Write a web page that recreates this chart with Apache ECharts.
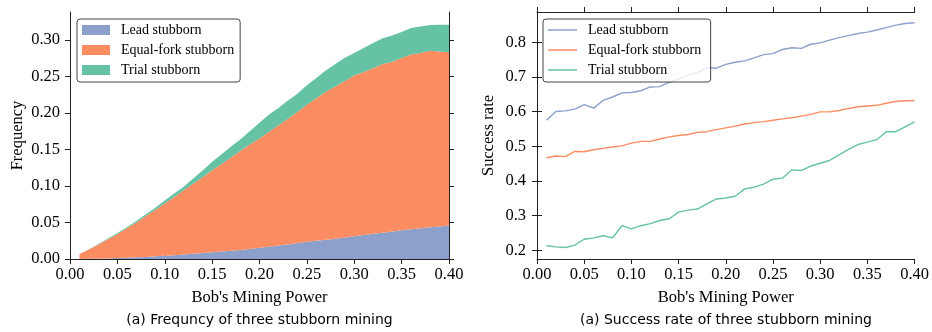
<!DOCTYPE html>
<html>
<head>
<meta charset="utf-8">
<script src="https://cdn.jsdelivr.net/npm/echarts@6/dist/echarts.min.js"></script>
<style>
  html, body { margin: 0; padding: 0; background: #fff; }
  #chart { width: 932px; height: 332px; }
</style>
</head>
<body>
<div id="chart"></div>
<script>
// Bob's mining power (x) shared by both panels
const miningPower = [0.01, 0.02, 0.03, 0.04, 0.05, 0.06, 0.07, 0.08, 0.09, 0.10,
  0.11, 0.12, 0.13, 0.14, 0.15, 0.16, 0.17, 0.18, 0.19, 0.20,
  0.21, 0.22, 0.23, 0.24, 0.25, 0.26, 0.27, 0.28, 0.29, 0.30,
  0.31, 0.32, 0.33, 0.34, 0.35, 0.36, 0.37, 0.38, 0.39, 0.40];

// left panel: frequency (stacked)
const freqLead = [0.0001, 0.0003, 0.0005, 0.0008, 0.0012, 0.0017, 0.0023, 0.0029, 0.0036, 0.0044,
  0.0053, 0.0062, 0.0071, 0.0081, 0.0091, 0.0102, 0.0113, 0.0124, 0.0138, 0.0153,
  0.0168, 0.0184, 0.0200, 0.0218, 0.0236, 0.0250, 0.0264, 0.0278, 0.0293, 0.0310,
  0.0327, 0.0344, 0.0360, 0.0376, 0.0392, 0.0406, 0.0420, 0.0433, 0.0446, 0.0458];
const freqEqualFork = [0.0067, 0.0127, 0.0195, 0.0262, 0.0328, 0.0403, 0.0477, 0.0561, 0.0634, 0.0716,
  0.0797, 0.0878, 0.0959, 0.1039, 0.1125, 0.1198, 0.1277, 0.1356, 0.1432, 0.1497,
  0.1572, 0.1646, 0.1720, 0.1792, 0.1874, 0.1950, 0.2026, 0.2082, 0.2142, 0.2200,
  0.2233, 0.2266, 0.2310, 0.2324, 0.2358, 0.2394, 0.2400, 0.2417, 0.2394, 0.2372];
const freqTrial = [0.0002, 0.0003, 0.0005, 0.0010, 0.0015, 0.0015, 0.0020, 0.0022, 0.0030, 0.0040,
  0.0045, 0.0050, 0.0070, 0.0090, 0.0114, 0.0135, 0.0150, 0.0160, 0.0180, 0.0215,
  0.0236, 0.0237, 0.0250, 0.0250, 0.0267, 0.0277, 0.0290, 0.0310, 0.0320, 0.0310,
  0.0327, 0.0345, 0.0350, 0.0360, 0.0355, 0.0360, 0.0360, 0.0352, 0.0366, 0.0376];

// right panel: success rate
const rateLead = [0.575, 0.600, 0.602, 0.607, 0.620, 0.610, 0.632, 0.642, 0.654, 0.655,
  0.660, 0.671, 0.672, 0.684, 0.694, 0.704, 0.713, 0.727, 0.725, 0.736,
  0.742, 0.746, 0.755, 0.764, 0.767, 0.779, 0.784, 0.782, 0.794, 0.798,
  0.806, 0.813, 0.819, 0.825, 0.829, 0.835, 0.842, 0.849, 0.854, 0.856];
const rateEqualFork = [0.467, 0.472, 0.470, 0.485, 0.484, 0.490, 0.494, 0.498, 0.501, 0.509,
  0.514, 0.514, 0.521, 0.527, 0.531, 0.534, 0.540, 0.542, 0.548, 0.553,
  0.558, 0.564, 0.568, 0.571, 0.575, 0.579, 0.582, 0.587, 0.592, 0.599,
  0.599, 0.603, 0.609, 0.614, 0.616, 0.618, 0.624, 0.629, 0.631, 0.632];
const rateTrial = [0.213, 0.210, 0.208, 0.215, 0.232, 0.236, 0.242, 0.236, 0.271, 0.262,
  0.271, 0.277, 0.286, 0.291, 0.310, 0.316, 0.319, 0.334, 0.348, 0.351,
  0.356, 0.377, 0.382, 0.391, 0.405, 0.408, 0.432, 0.430, 0.443, 0.451,
  0.459, 0.475, 0.491, 0.505, 0.512, 0.519, 0.542, 0.542, 0.556, 0.570];

// tick labels
const xTicks = [0, 0.05, 0.10, 0.15, 0.20, 0.25, 0.30, 0.35, 0.40];
const freqTicks = [0, 0.05, 0.10, 0.15, 0.20, 0.25, 0.30];
const rateTicks = [0.2, 0.3, 0.4, 0.5, 0.6, 0.7, 0.8];

const seriesNames = ['Lead stubborn', 'Equal-fork stubborn', 'Trial stubborn'];
const colors = ['#8da0cb', '#fc8d62', '#66c2a5'];

const serif = 'Liberation Serif';
const ink = '#000';
const spine = '#222';

// left panel uses a category axis (0.00 .. 0.40 in steps of 0.01) so the areas stack on y
const freqCategories = [0, ...miningPower].map(v => v.toFixed(2));
const everyFifth = i => i % 5 === 0;
const padFirst = vals => [null, ...vals];

const pairs = vals => vals.map((v, i) => [miningPower[i], v]);

const lineStyle = { color: spine, width: 1 };
const labelFont = { color: ink, fontFamily: serif, fontSize: 16.5 };

function valueAxis(ticks, digits, showLabel, margin) {
  return {
    type: 'value',
    axisLine: { show: true, lineStyle },
    axisTick: { show: true, inside: false, length: 5, customValues: ticks, lineStyle },
    axisLabel: Object.assign({
      show: showLabel, customValues: ticks, margin,
      formatter: v => Number(v).toFixed(digits)
    }, labelFont),
    splitLine: { show: false }
  };
}

function categoryAxis(showLabel) {
  return {
    type: 'category',
    data: freqCategories,
    boundaryGap: false,
    axisLine: { show: true, lineStyle },
    axisTick: { show: true, inside: false, length: 5, interval: everyFifth, lineStyle },
    axisLabel: Object.assign({ show: showLabel, interval: everyFifth, margin: 7 }, labelFont),
    splitLine: { show: false }
  };
}

const xName = {
  name: "Bob's Mining Power", nameLocation: 'middle', nameGap: 30,
  nameTextStyle: labelFont
};

const xAxes = [
  Object.assign(categoryAxis(true), { gridIndex: 0, position: 'bottom' }, xName),
  Object.assign(categoryAxis(false), { gridIndex: 0, position: 'top' }),
  Object.assign(valueAxis(xTicks, 2, true, 7), { gridIndex: 1, position: 'bottom', min: 0, max: 0.4 }, xName),
  Object.assign(valueAxis(xTicks, 2, false, 7), { gridIndex: 1, position: 'top', min: 0, max: 0.4 })
];

function yAxes(gridIndex, ticks, digits, min, max, name, gap, margin) {
  return [
    Object.assign(valueAxis(ticks, digits, true, margin), {
      gridIndex, position: 'left', min, max,
      name, nameLocation: 'middle', nameGap: gap, nameTextStyle: labelFont
    }),
    Object.assign(valueAxis(ticks, digits, false, margin), {
      gridIndex, position: 'right', min, max
    })
  ];
}

const legendBase = {
  orient: 'vertical',
  top: 19,
  padding: [1, 6, 2, 5],
  itemGap: 0,
  backgroundColor: 'rgba(255,255,255,0.8)',
  borderColor: '#444',
  borderWidth: 1,
  borderRadius: 3,
  selectedMode: false,
  icon: 'rect',
  textStyle: { color: ink, fontFamily: serif, fontSize: 14, lineHeight: 20, padding: [0, 0, 0, 6] }
};

const captionFont = '14px "DejaVu Sans"';

const chart = echarts.init(document.getElementById('chart'), null, { renderer: 'canvas' });

chart.setOption({
  backgroundColor: '#fff',
  animation: false,
  grid: [
    { left: 70, top: 12, width: 379, height: 247 },
    { left: 537, top: 12, width: 378, height: 247 }
  ],
  xAxis: xAxes,
  yAxis: [
    ...yAxes(0, freqTicks, 2, 0, 0.338, 'Frequency', 44, 10),
    ...yAxes(1, rateTicks, 1, 0.175, 0.887, 'Success rate', 40, 11)
  ],
  legend: [
    Object.assign({}, legendBase, {
      left: 77, itemWidth: 28, itemHeight: 10,
      data: seriesNames
    }),
    Object.assign({}, legendBase, {
      left: 543, itemWidth: 29, itemHeight: 1.5,
      data: seriesNames.map(n => n + ' ')
    })
  ],
  graphic: [
    {
      type: 'text', x: 259.5, y: 320,
      style: { text: '(a) Frequncy of three stubborn mining', fill: ink, font: captionFont, textAlign: 'center', textVerticalAlign: 'middle' }
    },
    {
      type: 'text', x: 726, y: 320,
      style: { text: '(a) Success rate of three stubborn mining', fill: ink, font: captionFont, textAlign: 'center', textVerticalAlign: 'middle' }
    }
  ],
  series: [
    ...[freqLead, freqEqualFork, freqTrial].map((vals, i) => ({
      name: seriesNames[i],
      type: 'line',
      xAxisIndex: 0, yAxisIndex: 0,
      stack: 'freq',
      data: padFirst(vals),
      symbol: 'none',
      lineStyle: { width: 0, color: colors[i] },
      itemStyle: { color: colors[i] },
      areaStyle: { color: colors[i], opacity: 1 }
    })),
    // trailing space keeps the right legend separate from the left one
    ...[rateLead, rateEqualFork, rateTrial].map((vals, i) => ({
      name: seriesNames[i] + ' ',
      type: 'line',
      xAxisIndex: 2, yAxisIndex: 2,
      data: pairs(vals),
      symbol: 'none',
      lineStyle: { width: 1.4, color: colors[i] },
      itemStyle: { color: colors[i] }
    }))
  ]
});
</script>
</body>
</html>
